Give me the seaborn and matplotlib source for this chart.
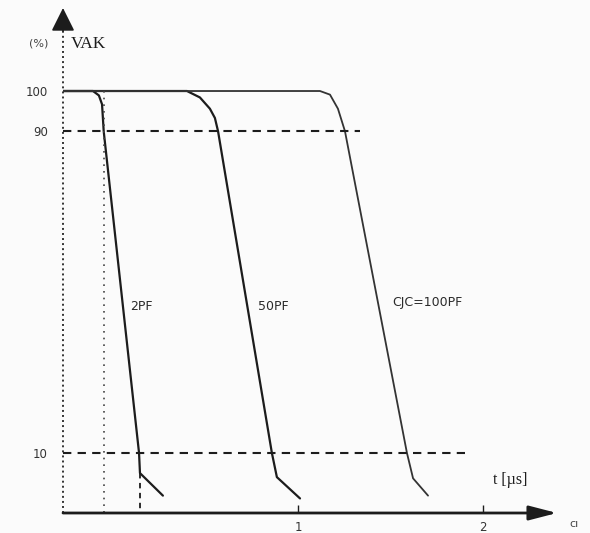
import matplotlib
matplotlib.use("Agg")
import matplotlib.pyplot as plt
import seaborn as sns
import pandas as pd

# ---- data ----
t_2pf = [-0.27, -0.108, -0.076, -0.059, -0.05, 0.141, 0.146, 0.270]
v_2pf = [100, 100, 98.9, 96.7, 90, 10, 5.0, -0.6]

t_50pf = [-0.27, 0.40, 0.47, 0.524, 0.551, 0.568, 0.859, 0.886, 1.011]
v_50pf = [100, 100, 98.4, 95.6, 93.3, 90, 10, 4.0, -1.3]

t_100pf = [-0.27, 1.119, 1.173, 1.216, 1.254, 1.589, 1.622, 1.703]
v_100pf = [100, 100, 99.1, 95.6, 90, 10, 3.7, -0.6]

curve_labels = ["2PF", "50PF", "CJC=100PF"]
y_ticks = [10, 90, 100]
y_tick_labels = ["10", "90", "100"]
x_ticks = [1, 2]
x_tick_labels = ["1", "2"]
ref_levels = [90, 10]
ref_level_ends = [1.335, 1.903]
t90_mark = -0.05
t10_mark = 0.146

sns.set_theme(style="white")
plt.rcParams["font.family"] = ["DejaVu Sans"]

fig = plt.figure(figsize=(5.9, 5.33), dpi=100)
fig.patch.set_facecolor("#fbfbfb")
W, H = 590, 533
ax = fig.add_axes([63 / W, (H - 513) / H, (557 - 63) / W, (513 - 8) / H])
ax.set_facecolor("none")
ax.set_xlim(-0.27, 2.40)
ax.set_ylim(-4.92, 120.64)

ink = "#1c1c1c"

frames = []
for name, t, v in zip(curve_labels, [t_2pf, t_50pf, t_100pf], [v_2pf, v_50pf, v_100pf]):
    frames.append(pd.DataFrame({"t": t, "v": v, "curve": name}))
df = pd.concat(frames, ignore_index=True)

styles = {"2PF": dict(lw=1.6, color=ink),
          "50PF": dict(lw=1.6, color=ink),
          "CJC=100PF": dict(lw=1.3, color="#333333")}
for name in curve_labels:
    sub = df[df["curve"] == name]
    sns.lineplot(data=sub, x="t", y="v", estimator=None, sort=False, ax=ax,
                 legend=False, **styles[name])

# reference dashed levels
for lvl, end in zip(ref_levels, ref_level_ends):
    ax.plot([-0.27, end], [lvl, lvl], color=ink, lw=1.5, ls=(0, (4, 3)))

# t markers
ax.plot([t90_mark, t90_mark], [100, -4.92], color="#444444", lw=1.2, ls=(0, (1, 3)))
ax.plot([t10_mark, t10_mark], [5, -4.92], color=ink, lw=1.3, ls=(0, (3, 2.5)))

# axes
for side in ["top", "right", "bottom", "left"]:
    ax.spines[side].set_visible(False)
ax.plot([-0.27, -0.27], [-4.92, 116.0], color="#333333", lw=1.4, ls=(0, (1, 1.6)), clip_on=False)
ax.annotate("", xy=(0, 1.0), xycoords="axes fraction", xytext=(0, 0.955),
            textcoords="axes fraction",
            arrowprops=dict(arrowstyle="-|>,head_length=0.72,head_width=0.36",
                            mutation_scale=20, color=ink, lw=1.2, shrinkA=0, shrinkB=0))
ax.annotate("", xy=(1.0, 0), xycoords="axes fraction", xytext=(0, 0),
            textcoords="axes fraction",
            arrowprops=dict(arrowstyle="-|>,head_length=0.85,head_width=0.22",
                            mutation_scale=20, color=ink, lw=2.0, shrinkA=0, shrinkB=0))

ax.set_yticks(y_ticks)
ax.set_yticklabels(y_tick_labels)
ax.set_xticks(x_ticks)
ax.set_xticklabels(x_tick_labels)
ax.tick_params(axis="y", length=0, pad=11, labelsize=8.5, labelcolor="#333333")
ax.tick_params(axis="x", direction="in", length=6, width=1.0, color=ink, pad=6,
               labelsize=8.5, labelcolor="#333333", bottom=True)
ax.set_xlabel("")
ax.set_ylabel("")
ax.grid(False)

# texts
ax.text(-0.227, 111.7, "VAK", family="Liberation Serif", fontsize=12.5,
        color=ink, ha="left", va="center")
ax.text(-0.351, 111.7, "(%)", fontsize=8, color="#444444", ha="right", va="center")
ax.text(2.054, 3.3, "t [µs]", family="Liberation Serif", fontsize=11.5,
        color=ink, ha="left", va="center")
label_pos = [(0.092, 46.3), (0.784, 46.3), (1.508, 47.5)]
for name, (x, y) in zip(curve_labels, label_pos):
    ax.text(x, y, name, fontsize=9, color="#2a2a2a", ha="left", va="center")
ax.text(2.490, -7.6, "cı", fontsize=8, color="#444444", ha="center", va="center",
        clip_on=False)

fig.savefig("out.png", dpi=100, facecolor=fig.get_facecolor())
